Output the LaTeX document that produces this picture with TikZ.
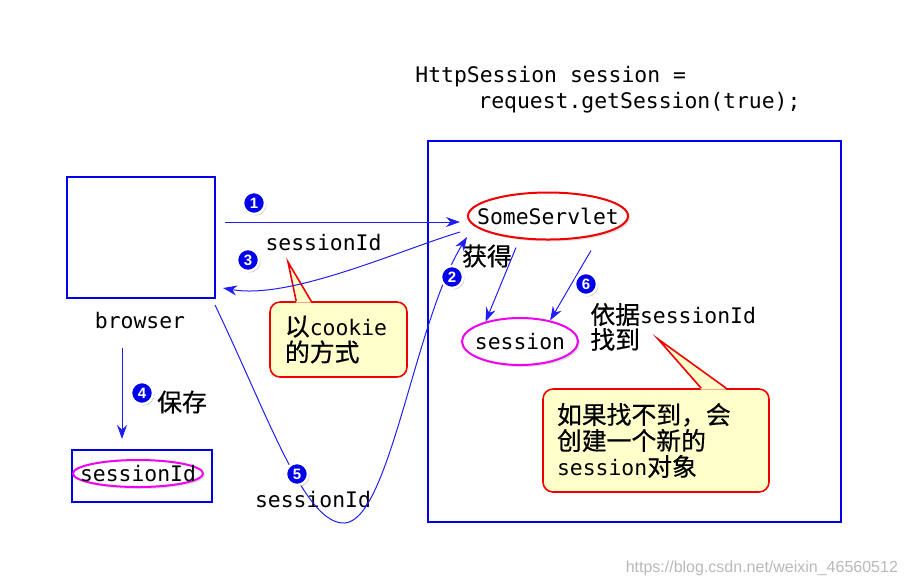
\documentclass[tikz,border=0pt]{standalone}
\usepackage{fontspec}
\setmonofont{DejaVu Sans Mono}
\setsansfont{Liberation Sans}
\newfontfamily\zhfont{Noto Sans CJK SC}[Scale=1.16,FakeBold=0.6]
\newcommand\zh[1]{{\zhfont #1}}
\usetikzlibrary{arrows.meta,shapes.geometric,shadows,calc}
\definecolor{boxblue}{RGB}{0,0,235}
\definecolor{flowblue}{RGB}{30,30,245}
\definecolor{notered}{RGB}{240,0,0}
\definecolor{notefill}{RGB}{255,255,204}
\definecolor{ovalpink}{RGB}{240,0,240}
\tikzset{%
  box/.style = {rectangle,draw=boxblue,line width=1pt},
  oval/.style = {ellipse,draw,line width=1pt,fill=white,inner sep=0pt,
        execute at begin node={\hbox to 0pt\bgroup\hss},
        execute at end node={\hss\egroup},
        drop shadow={shadow xshift=1pt,shadow yshift=-1pt,opacity=0.25}},
  flow/.style = {-{Stealth[length=7pt,width=5pt]},draw=flowblue,line width=0.5pt},
  badge/.style = {circle,fill=boxblue,draw=white,line width=1.2pt,text=white,
        inner sep=0pt,minimum size=11pt,
        font=\sffamily\bfseries\fontsize{7.5}{7.5}\selectfont,
        drop shadow={shadow xshift=0.8pt,shadow yshift=-0.8pt,opacity=0.35}},
  note/.style = {rectangle,rounded corners=5pt,draw=notered,fill=notefill,
        line width=0.8pt,align=left}
}

\begin{document}
\begin{tikzpicture}[x=0.5pt,y=-0.5pt,font=\fontsize{10.7}{13}\selectfont\ttfamily]
    \useasboundingbox (0,0) rectangle (913,586);

    % code line on top
    \node[anchor=west,align=left,inner sep=0pt] (code) at (415,89.5)
        {HttpSession session =\\\hspace*{31.5pt}request.getSession(true);};

    % browser side
    \node[box,minimum width=74pt,minimum height=60.5pt] (browser) at (141,237.5) {};
    \node (browserlabel) at (140,321) {browser};
    \node[box,minimum width=70pt,minimum height=26pt] (store) at (142,476) {};
    \node[oval,draw=ovalpink,minimum width=65pt,minimum height=13.5pt] (cookie) at (138,473.5) {sessionId};

    % server side
    \node[box,minimum width=206.5pt,minimum height=190.5pt] (container) at (634.5,331.5) {};
    \node[oval,draw=notered,minimum width=80pt,minimum height=23.5pt] (servlet) at (548,216) {SomeServlet};
    \node[oval,draw=ovalpink,minimum width=58pt,minimum height=23.5pt] (session) at (520,341.5) {session};

    % notes
    \node[note,minimum width=68.5pt,minimum height=37.5pt,text width=53.5pt,inner xsep=7.5pt]
        (cookienote) at (338.5,339.5) {\zh{以}cookie\\\zh{的方式}};
    \fill[notefill] ($(cookienote.north west)+(27,1.5)$) -- (288,262) -- ($(cookienote.north west)+(42,1.5)$) -- cycle;
    \draw[notered,line width=0.8pt] ($(cookienote.north west)+(27,0)$) -- (288,262) -- ($(cookienote.north west)+(42,0)$);

    \node[note,minimum width=113pt,minimum height=51.5pt,text width=99pt,inner xsep=7pt]
        (newnote) at (656,440.5) {\zh{如果找不到，会}\\\zh{创建一个新的}\\session\zh{对象}};
    \fill[notefill] ($(newnote.north west)+(159,1.5)$) -- (658,339) -- ($(newnote.north west)+(184,1.5)$) -- cycle;
    \draw[notered,line width=0.8pt] ($(newnote.north west)+(159,0)$) -- (658,339) -- ($(newnote.north west)+(184,0)$);

    % labels
    \node (idlabel) at (323.5,243) {sessionId};
    \node (idlabel2) at (313,500) {sessionId};
    \node (gettext) at (487,256) {\zh{获得}};
    \node (savetext) at (182,402) {\zh{保存}};
    \node[anchor=west,align=left,inner sep=0pt,font=\fontsize{10.7}{12.5}\selectfont\ttfamily]
        (findtext) at (590,327) {\zh{依据}sessionId\\\zh{找到}};

    % arrows
    \draw[flow] ([xshift=4.5pt,yshift=7.75pt]browser.east) -- ([xshift=-3.5pt,yshift=-3pt]servlet.west);
    \draw[flow] ([xshift=-3.5pt,yshift=-8pt]servlet.west) .. controls (400,250) and (290,300)
        .. ([xshift=3.5pt,yshift=5.5pt]browser.south east);
    \draw[flow] ([xshift=-16pt,yshift=-3.5pt]servlet.south) -- (session.150);
    \draw[flow] ([xshift=21.5pt,yshift=-5pt]servlet.south) -- (session.35);
    \draw[flow] ([xshift=-9pt,yshift=-6pt]browserlabel.south) -- ([xshift=-10pt,yshift=5pt]store.north);
    \draw[flow] ([xshift=-0.5pt,yshift=-3pt]browser.south east) .. controls (270,420) and (305,525)
        .. (345,523) .. controls (390,519) and (415,320) .. ([yshift=-10.5pt]servlet.west);

    % step numbers
    \node[badge] (b1) at (254,203) {1};
    \node[badge] (b2) at (452,277) {2};
    \node[badge] (b3) at (248,260) {3};
    \node[badge] (b4) at (142,393) {4};
    \node[badge] (b5) at (297,474) {5};
    \node[badge] (b6) at (586,284) {6};

    \node[anchor=east,text=gray!55,font=\sffamily\fontsize{8}{9}\selectfont] (mark) at (905,568)
        {https://blog.csdn.net/weixin\_46560512};
\end{tikzpicture}
\end{document}
